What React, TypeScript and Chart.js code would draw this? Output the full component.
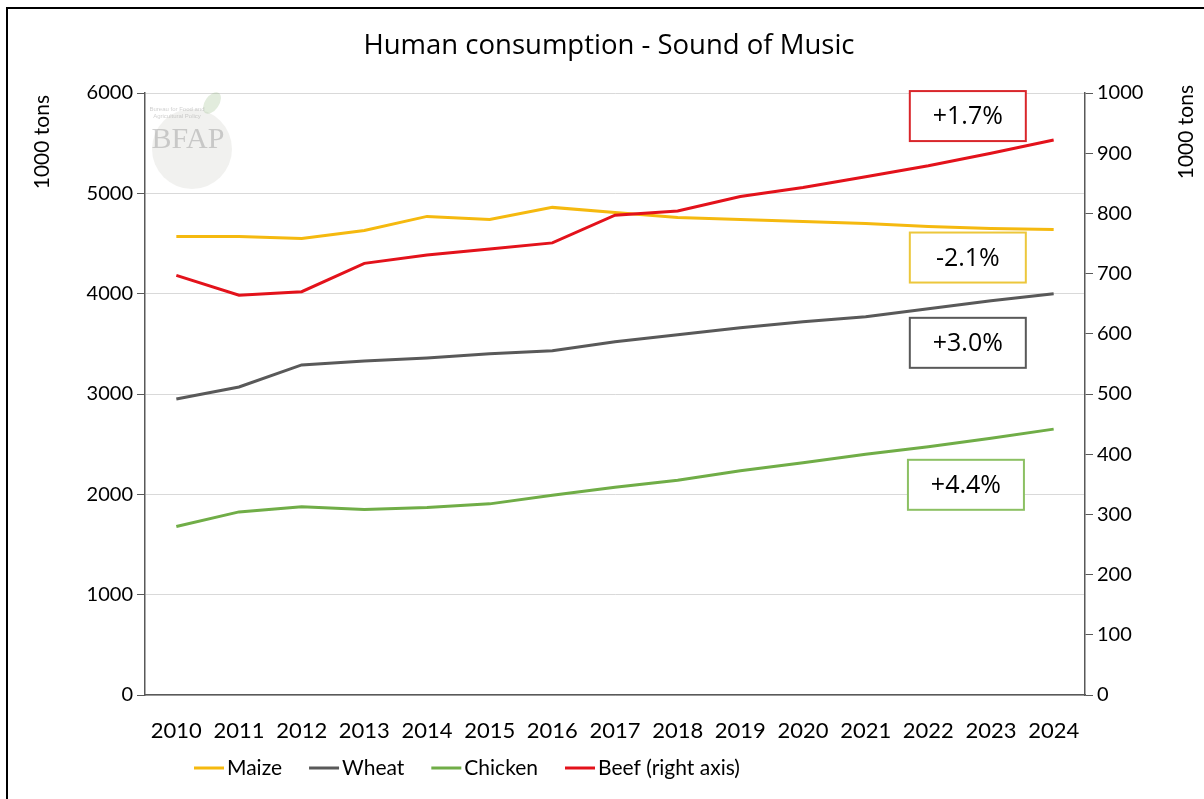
import React, { useEffect, useRef } from 'react';
import { Chart, registerables } from 'chart.js';

Chart.register(...registerables);

const years = ['2010', '2011', '2012', '2013', '2014', '2015', '2016', '2017', '2018', '2019', '2020', '2021', '2022', '2023', '2024'];
const maize = [4570, 4570, 4550, 4630, 4770, 4740, 4860, 4810, 4760, 4740, 4720, 4700, 4670, 4650, 4640];
const wheat = [2950, 3070, 3290, 3330, 3360, 3400, 3430, 3520, 3590, 3660, 3720, 3770, 3850, 3930, 4000];
const chicken = [1680, 1825, 1877, 1850, 1870, 1905, 1990, 2070, 2140, 2235, 2315, 2400, 2475, 2560, 2650];
const beef = [697, 664, 670, 717, 731, 741, 751, 797, 804, 828, 843, 861, 879, 900, 922];

const seriesLabels = ['Maize', 'Wheat', 'Chicken', 'Beef (right axis)'];
const seriesColors = ['#f5b90f', '#595959', '#70ad47', '#e3121b'];

const titleText = 'Human consumption - Sound of Music';
const leftAxisTitle = '1000 tons';
const rightAxisTitle = '1000 tons';

// growth annotations: text, border colour, category index, left-axis value
const noteTexts = ['+1.7%', '-2.1%', '+3.0%', '+4.4%'];
const noteColors = ['#d9262b', '#ecc73c', '#595959', '#8cc063'];
const noteX = [12.63, 12.63, 12.63, 12.6];
const noteY = [5770, 4360, 3510, 2095];

const FONT = 'Lato, "Open Sans", sans-serif';
const WIDE = '"Open Sans", Lato, sans-serif';

const decoPlugin = {
  id: 'deco',
  beforeDraw(chart: any) {
    const { ctx, width, height } = chart;
    ctx.save();
    ctx.fillStyle = '#ffffff';
    ctx.fillRect(0, 0, width, height);
    ctx.restore();
  },
  beforeDatasetsDraw(chart: any) {
    const { ctx, chartArea } = chart;
    // faint watermark logo
    ctx.save();
    const cx = chartArea.left + 47;
    const cy = chartArea.top + 50;
    ctx.fillStyle = 'rgba(190,190,180,0.22)';
    ctx.beginPath();
    ctx.arc(cx, cy + 6, 40, 0, Math.PI * 2);
    ctx.fill();
    ctx.fillStyle = 'rgba(140,180,120,0.25)';
    ctx.beginPath();
    ctx.ellipse(cx + 20, cy - 40, 7, 12, 0.6, 0, Math.PI * 2);
    ctx.fill();
    ctx.fillStyle = 'rgba(150,150,150,0.45)';
    ctx.font = '30px "Liberation Serif", serif';
    ctx.textAlign = 'center';
    ctx.textBaseline = 'middle';
    ctx.fillText('BFAP', cx - 4, cy - 3);
    ctx.font = '6px sans-serif';
    ctx.fillText('Bureau for Food and', cx - 15, cy - 34);
    ctx.fillText('Agricultural Policy', cx - 15, cy - 27);
    ctx.restore();
  },
  afterDraw(chart: any) {
    const { ctx, chartArea, width, height } = chart;
    const xs = chart.scales.x;
    const ys = chart.scales.y;
    ctx.save();
    // frame
    ctx.strokeStyle = '#000000';
    ctx.lineWidth = 2;
    ctx.beginPath();
    ctx.moveTo(7, height);
    ctx.lineTo(7, 8);
    ctx.lineTo(width, 8);
    ctx.stroke();

    // title
    ctx.fillStyle = '#000000';
    ctx.font = '27.5px ' + WIDE;
    ctx.textAlign = 'center';
    ctx.textBaseline = 'middle';
    ctx.fillText(titleText, (chartArea.left + chartArea.right) / 2 - 6, 46);

    // axis titles (top aligned)
    ctx.font = '21px ' + FONT;
    ctx.textAlign = 'right';
    ctx.save();
    ctx.translate(42, chartArea.top + 2);
    ctx.rotate(-Math.PI / 2);
    ctx.fillText(leftAxisTitle, 0, 0);
    ctx.restore();
    ctx.save();
    ctx.translate(chartArea.right + 101, chartArea.top - 8);
    ctx.rotate(-Math.PI / 2);
    ctx.fillText(rightAxisTitle, 0, 0);
    ctx.restore();

    // annotations
    for (let i = 0; i < noteTexts.length; i++) {
      const px = xs.getPixelForValue(noteX[i]);
      const py = ys.getPixelForValue(noteY[i]);
      const w = 116;
      const h = 50;
      ctx.fillStyle = '#ffffff';
      ctx.fillRect(px - w / 2, py - h / 2, w, h);
      ctx.strokeStyle = noteColors[i];
      ctx.lineWidth = 2;
      ctx.strokeRect(px - w / 2, py - h / 2, w, h);
      ctx.fillStyle = '#000000';
      ctx.font = '25px ' + WIDE;
      ctx.textAlign = 'center';
      ctx.textBaseline = 'middle';
      ctx.fillText(noteTexts[i], px, py + 1);
    }

    // legend
    ctx.font = '21px ' + FONT;
    ctx.textBaseline = 'middle';
    ctx.textAlign = 'left';
    const ly = 768;
    let lx = chartArea.left + 49;
    const lineLen = 30;
    const gap = 3;
    const spacing = 27;
    for (let i = 0; i < seriesLabels.length; i++) {
      ctx.strokeStyle = seriesColors[i];
      ctx.lineWidth = 3;
      ctx.beginPath();
      ctx.moveTo(lx, ly);
      ctx.lineTo(lx + lineLen, ly);
      ctx.stroke();
      ctx.fillStyle = '#000000';
      ctx.fillText(seriesLabels[i], lx + lineLen + gap, ly);
      lx += lineLen + gap + ctx.measureText(seriesLabels[i]).width + spacing;
    }
    ctx.restore();
  },
};

export default function App() {
  const ref = useRef<HTMLCanvasElement>(null);
  useEffect(() => {
    document.body.style.margin = '0';
    const canvas = ref.current;
    if (!canvas) return;
    const axisColor = '#595959';
    const plain = (v: any) => String(v);
    const chart = new Chart(canvas, {
      type: 'line',
      data: {
        labels: years,
        datasets: [
          { label: seriesLabels[0], data: maize, borderColor: seriesColors[0], yAxisID: 'y', order: 1 },
          { label: seriesLabels[1], data: wheat, borderColor: seriesColors[1], yAxisID: 'y', order: 1 },
          { label: seriesLabels[2], data: chicken, borderColor: seriesColors[2], yAxisID: 'y', order: 1 },
          { label: seriesLabels[3], data: beef, borderColor: seriesColors[3], yAxisID: 'y1', order: 0 },
        ].map((d) => ({ ...d, borderWidth: 3, pointRadius: 0, tension: 0, fill: false, backgroundColor: d.borderColor })),
      },
      options: {
        responsive: false,
        animation: false,
        layout: { padding: { top: 93, left: 0, right: 0, bottom: 0 } },
        plugins: { legend: { display: false }, title: { display: false }, tooltip: { enabled: false } },
        scales: {
          x: {
            type: 'category',
            offset: true,
            grid: { display: false },
            border: { display: true, color: axisColor, width: 1.5 },
            ticks: { color: '#000000', font: { family: FONT, size: 22 }, padding: 15, maxRotation: 0, autoSkip: false },
            afterFit: (s: any) => { s.height = 104; },
          },
          y: {
            position: 'left',
            min: 0,
            max: 6000,
            ticks: { stepSize: 1000, color: '#000000', font: { family: FONT, size: 20 }, padding: 4, callback: plain },
            grid: { color: '#d9d9d9', lineWidth: 1, tickColor: axisColor, tickLength: 8, drawTicks: true },
            border: { display: true, color: axisColor, width: 1.5 },
            afterFit: (s: any) => { s.width = 145; },
          },
          y1: {
            position: 'right',
            min: 0,
            max: 1000,
            ticks: { stepSize: 100, color: '#000000', font: { family: FONT, size: 20 }, padding: 4, callback: plain },
            grid: { drawOnChartArea: false, tickColor: axisColor, tickLength: 8, drawTicks: true },
            border: { display: true, color: axisColor, width: 1.5 },
            afterFit: (s: any) => { s.width = 119; },
          },
        },
      },
      plugins: [decoPlugin],
    });
    return () => chart.destroy();
  }, []);
  return (
    <div style={{ position: 'absolute', left: 0, top: 0 }}>
      <canvas ref={ref} width={1204} height={799} style={{ display: 'block' }} />
    </div>
  );
}
